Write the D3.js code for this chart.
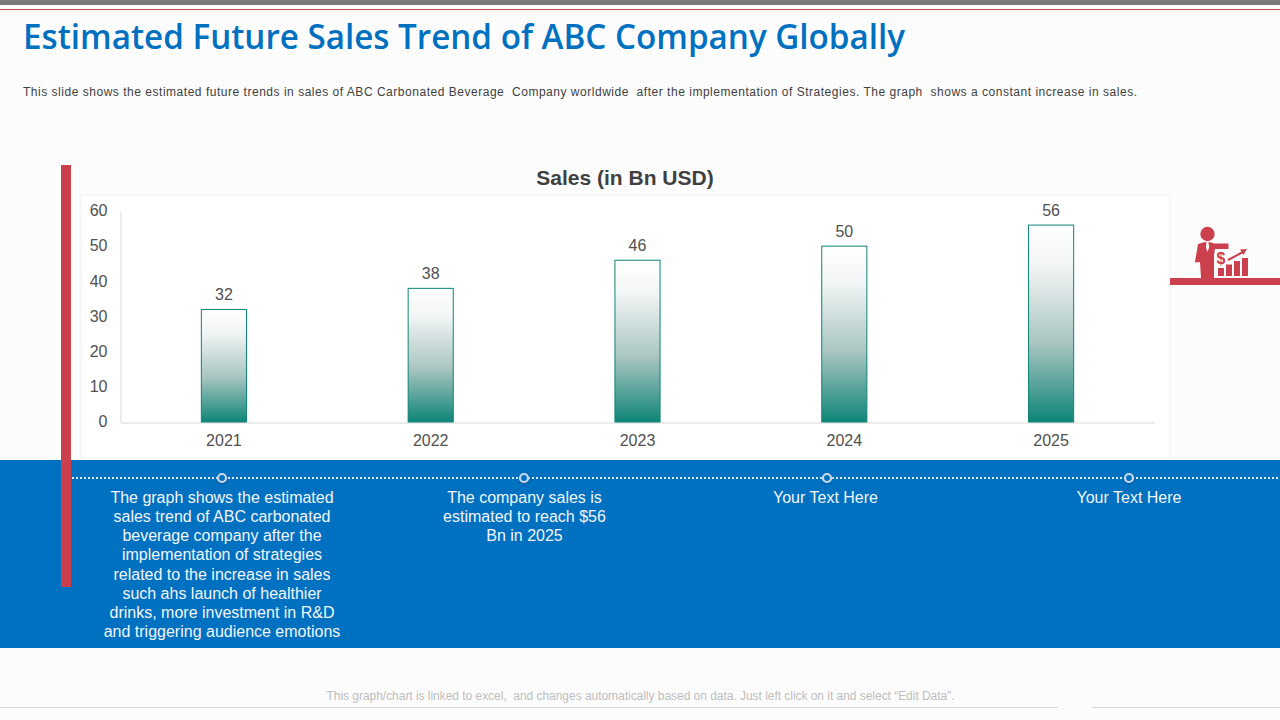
<!DOCTYPE html>
<html><head><meta charset="utf-8">
<script src="https://cdn.jsdelivr.net/npm/d3@7/dist/d3.min.js"></script>
<style>html,body{margin:0;padding:0;background:#fff;overflow:hidden}svg{display:block}text{font-family:"Liberation Sans",Arial,sans-serif}</style>
</head><body><svg id="c" width="1280" height="720"></svg>
<script>
const years = ["2021","2022","2023","2024","2025"];
const sales = [32,38,46,50,56];
const yTicks = [0,10,20,30,40,50,60];
const titleText = "Estimated Future Sales Trend of ABC Company Globally";
const subtitleText = "This slide shows the estimated future trends in sales of ABC Carbonated Beverage  Company worldwide  after the implementation of Strategies. The graph  shows a constant increase in sales.";
const chartTitle = "Sales (in Bn USD)";
const footerText = "This graph/chart is linked to excel,  and changes automatically based on data. Just left click on it and select \u201cEdit Data\u201d.";
const notes = [
 ["The graph shows the estimated","sales trend of ABC carbonated","beverage company after the","implementation of strategies","related to the increase in sales","such ahs launch of healthier","drinks, more investment in R&D","and triggering audience emotions"],
 ["The company sales is","estimated to reach $56","Bn in 2025"],
 ["Your Text Here"],
 ["Your Text Here"]
];
const noteX = [222,524.5,825.5,1129];
const dotX = [222,524,827,1129];

const svg = d3.select("#c");
const defs = svg.append("defs");
const pat = defs.append("pattern").attr("id","bgp").attr("width",4).attr("height",4).attr("patternUnits","userSpaceOnUse");
pat.append("rect").attr("width",4).attr("height",4).attr("fill","#ffffff");
pat.append("path").attr("d","M-1 1l2 2M1 -1l4 4M3 -1l2 2").attr("fill","none").attr("stroke","#f5f5f5").attr("stroke-width",1);
const grad = defs.append("linearGradient").attr("id","bar").attr("x1",0).attr("y1",0).attr("x2",0).attr("y2",1);
grad.append("stop").attr("offset",0).attr("stop-color","#ffffff");
grad.append("stop").attr("offset",0.2).attr("stop-color","#f3f6f6");
grad.append("stop").attr("offset",0.6).attr("stop-color","#a9c5c1");
grad.append("stop").attr("offset",1).attr("stop-color","#0e8577");
const glow = defs.append("filter").attr("id","sh").attr("x","-50%").attr("y","-50%").attr("width","200%").attr("height","200%");
glow.append("feDropShadow").attr("dx",0).attr("dy",1).attr("stdDeviation",1).attr("flood-color","#00335f").attr("flood-opacity",.5);

svg.append("rect").attr("width",1280).attr("height",720).attr("fill","url(#bgp)");
svg.append("rect").attr("width",1280).attr("height",5).attr("fill","#7a7a7a");
svg.append("rect").attr("y",5).attr("width",1280).attr("height",4).attr("fill","#fff");
svg.append("rect").attr("y",9).attr("width",1280).attr("height",1).attr("fill","#c0504d");
svg.append("text").attr("x",23).attr("y",49).attr("font-size",34.5).attr("font-weight",600).attr("fill","#0070c0")
  .style("font-family","'Open Sans'").attr("textLength",882).attr("lengthAdjust","spacingAndGlyphs").text(titleText);
svg.append("text").attr("x",23).attr("y",95.5).attr("font-size",12).attr("fill","#404040").attr("textLength",1114).style("white-space","pre").text(subtitleText);

// chart panel
svg.append("rect").attr("x",81).attr("y",195).attr("width",1089).attr("height",265).attr("fill","#fff").attr("stroke","#f2f2f2");
svg.append("text").attr("x",625).attr("y",185).attr("text-anchor","middle").attr("font-size",21).attr("font-weight",700).attr("fill","#404040").text(chartTitle);

const x = d3.scaleBand().domain(years).range([120.5,1154.5]).paddingInner(0.777).paddingOuter(0.3885);
const y = d3.scaleLinear().domain([0,60]).range([422,211]);
const gy = svg.append("g").attr("transform","translate(120.5,0)").call(d3.axisLeft(y).tickValues(yTicks).tickSize(0).tickPadding(13));
gy.select(".domain").attr("stroke","#d9d9d9");
gy.selectAll("text").attr("font-size",16).attr("fill","#505050").attr("dy","0.3em").style("font-family","'Liberation Sans'");
const gx = svg.append("g").attr("transform","translate(0,422.5)").call(d3.axisBottom(x).tickSize(0).tickPadding(12));
gx.select(".domain").attr("stroke","#d9d9d9");
gx.selectAll("text").attr("font-size",16).attr("fill","#505050").style("font-family","'Liberation Sans'");

svg.selectAll("rect.bar").data(years).join("rect").attr("class","bar")
  .attr("x",d=>x(d)+.5).attr("width",x.bandwidth()-1)
  .attr("y",(d,i)=>y(sales[i])).attr("height",(d,i)=>y(0)-y(sales[i]))
  .attr("fill","url(#bar)").attr("stroke","#0e8577").attr("stroke-width",1);
svg.selectAll("text.val").data(years).join("text").attr("class","val")
  .attr("x",d=>x(d)+x.bandwidth()/2).attr("y",(d,i)=>y(sales[i])-9.2)
  .attr("text-anchor","middle").attr("font-size",16).attr("fill","#505050").text((d,i)=>sales[i]);

// blue band
svg.append("rect").attr("y",460).attr("width",1280).attr("height",188).attr("fill","#0070c0");
svg.append("line").attr("x1",72).attr("x2",1280).attr("y1",478).attr("y2",478).attr("stroke","#dfeaf5").attr("stroke-width",2).attr("stroke-dasharray","2 2");
svg.selectAll("circle.node").data(dotX).join("circle").attr("class","node").attr("cx",d=>d).attr("cy",478).attr("r",4)
  .attr("fill","#0070c0").attr("stroke","#c6d9ec").attr("stroke-width",2.2).attr("filter","url(#sh)");
notes.forEach((ls,i)=>{
  svg.append("text").attr("text-anchor","middle").attr("font-size",16).attr("fill","#f2f6fb")
   .selectAll("tspan").data(ls).join("tspan").attr("x",noteX[i]).attr("y",(d,j)=>503+j*19.15).text(d=>d);
});

// red vertical bar
svg.append("rect").attr("x",61).attr("y",165).attr("width",10).attr("height",422).attr("fill","#cc3f4d");

// icon & ledge
svg.append("rect").attr("x",1170).attr("y",278).attr("width",110).attr("height",7).attr("fill","#cc3f4d");
const ic = svg.append("g").attr("fill","#cc3f4d");
ic.append("circle").attr("cx",1207.5).attr("cy",234).attr("r",7.2);
ic.append("path").attr("d","M1198 244l7-2l2.500 1l2.500-1l4 1.500h14.500v5.500h-13.500l-1 6v23h-13l-1-16l-3.500 .5l-1.500-.5z");
ic.append("path").attr("d","M1206.500 243h2l.7 4l-1.700 5l-1.700-5z").attr("fill","#fff");
[[1218,268,6,8],[1226,264.500,6,11.500],[1234,261,6,15],[1242,258,6,18]].forEach(([a,b,c,d])=>{
  ic.append("rect").attr("x",a).attr("y",b).attr("width",c).attr("height",d);
});
ic.append("text").attr("x",1221).attr("y",264).attr("text-anchor","middle").attr("font-size",16).attr("font-weight",700).attr("fill","#cc3f4d").text("$");
ic.append("path").attr("d","M1228 260l15-8").attr("stroke","#cc3f4d").attr("stroke-width",2).attr("fill","none");
ic.append("path").attr("d","M1240 249.500l7-.5l-3.500 6z");

// footer
svg.append("text").attr("x",640.5).attr("y",700).attr("text-anchor","middle").attr("font-size",12).attr("fill","#bdbdbd").attr("textLength",628).style("white-space","pre").text(footerText);
svg.append("line").attr("x1",0).attr("x2",1058).attr("y1",707.500).attr("y2",707.500).attr("stroke","#d9d9d9");
svg.append("line").attr("x1",1092).attr("x2",1280).attr("y1",707.500).attr("y2",707.500).attr("stroke","#d9d9d9");
</script></body></html>
